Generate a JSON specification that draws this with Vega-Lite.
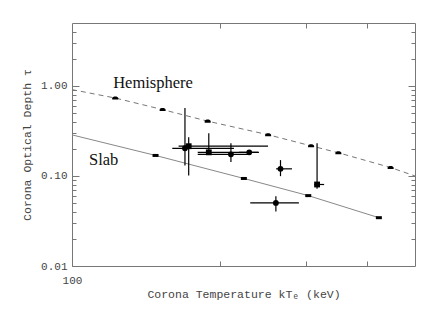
{
  "$schema": "https://vega.github.io/schema/vega-lite/v6.json",
  "width": 343,
  "height": 243,
  "autosize": {"type": "none"},
  "padding": {"left": 72, "top": 23, "right": 21, "bottom": 46},
  "background": "white",
  "config": {
    "view": {"stroke": "#777", "strokeWidth": 1},
    "axis": {
      "grid": false,
      "domain": false,
      "tickColor": "#777",
      "tickWidth": 1,
      "labelFont": "Liberation Mono",
      "labelFontSize": 11,
      "labelColor": "#444",
      "labelFlush": false,
      "labelOverlap": false,
      "titleFont": "Liberation Mono",
      "titleFontSize": 11.5,
      "titleFontWeight": "normal",
      "titleColor": "#444"
    }
  },
  "datasets": {
    "hemi": [
      {"T": 100, "tau": 0.91, "marker": false},
      {"T": 122.5, "tau": 0.734, "marker": true},
      {"T": 153, "tau": 0.546, "marker": true},
      {"T": 189, "tau": 0.406, "marker": true},
      {"T": 251, "tau": 0.287, "marker": true},
      {"T": 307, "tau": 0.216, "marker": true},
      {"T": 349, "tau": 0.181, "marker": true},
      {"T": 446, "tau": 0.124, "marker": true},
      {"T": 500, "tau": 0.1, "marker": false}
    ],
    "slab": [
      {"T": 100, "tau": 0.286, "marker": false},
      {"T": 148, "tau": 0.169, "marker": true},
      {"T": 224, "tau": 0.0938, "marker": true},
      {"T": 303, "tau": 0.0605, "marker": true},
      {"T": 422, "tau": 0.0344, "marker": true}
    ],
    "obs": [
      {"T": 169.9, "tau": 0.203, "Tlo": 160.1, "Thi": 213.8, "taulo": 0.131, "tauhi": 0.568, "kind": "circle"},
      {"T": 172.9, "tau": 0.214, "Tlo": 164.9, "Thi": 250.9, "taulo": 0.101, "tauhi": 0.269, "kind": "square"},
      {"T": 190.0, "tau": 0.183, "Tlo": 180.4, "Thi": 239.4, "taulo": 0.178, "tauhi": 0.298, "kind": "square"},
      {"T": 210.8, "tau": 0.174, "Tlo": 180.4, "Thi": 231.6, "taulo": 0.143, "tauhi": 0.231, "kind": "circle"},
      {"T": 229.7, "tau": 0.183, "Tlo": 218.9, "Thi": 240.5, "taulo": 0.178, "tauhi": 0.188, "kind": "circle"},
      {"T": 266.0, "tau": 0.12, "Tlo": 260.6, "Thi": 280.7, "taulo": 0.0995, "tauhi": 0.15, "kind": "circle"},
      {"T": 315.8, "tau": 0.0804, "Tlo": 311.8, "Thi": 326.4, "taulo": 0.0719, "tauhi": 0.231, "kind": "square"},
      {"T": 260.3, "tau": 0.0502, "Tlo": 230.8, "Thi": 290.0, "taulo": 0.0404, "tauhi": 0.0595, "kind": "circle"}
    ],
    "labels": [
      {"T": 121.3, "tau": 0.951, "label": "Hemisphere"},
      {"T": 108.3, "tau": 0.131, "label": "Slab"}
    ]
  },
  "layer": [
    {
      "data": {"name": "hemi"},
      "mark": {"type": "line", "color": "#777", "strokeWidth": 1, "strokeDash": [5, 4]},
      "encoding": {
        "x": {
          "field": "T", "type": "quantitative",
          "scale": {"type": "log", "domain": [100, 500], "nice": false},
          "axis": {
            "orient": "bottom",
            "values": [100, 200, 300, 400],
            "tickSize": -5,
            "labelExpr": "datum.value == 100 ? '100' : ''",
            "labelPadding": 13,
            "title": "Corona Temperature kTₑ (keV)",
            "titleY": 28,
            "titleBaseline": "middle"
          }
        },
        "y": {
          "field": "tau", "type": "quantitative",
          "scale": {"type": "log", "domain": [0.01, 5], "nice": false},
          "axis": {
            "orient": "left",
            "values": [0.01, 0.02, 0.03, 0.04, 0.05, 0.06, 0.07, 0.08, 0.09, 0.1, 0.2, 0.3, 0.4, 0.5, 0.6, 0.7, 0.8, 0.9, 1, 2, 3, 4],
            "tickSize": -4,
            "labelExpr": "(datum.value == 0.01 || datum.value == 0.1 || datum.value == 1) ? format(datum.value, '.2f') : ''",
            "labelPadding": 9,
            "labelBaseline": "middle",
            "title": "Corona Optical Depth τ",
            "titleX": -45,
            "titleY": 121.5,
            "titleAngle": 270,
            "titleBaseline": "middle",
            "titleAlign": "center"
          }
        }
      }
    },
    {
      "data": {"name": "slab"},
      "mark": {"type": "line", "color": "#888", "strokeWidth": 1},
      "encoding": {
        "x": {
          "field": "T", "type": "quantitative",
          "scale": {"type": "log", "domain": [100, 500], "nice": false},
          "axis": {"orient": "top", "values": [200, 300, 400], "tickSize": -5, "labels": false, "title": null}
        },
        "y": {
          "field": "tau", "type": "quantitative",
          "scale": {"type": "log", "domain": [0.01, 5], "nice": false},
          "axis": {
            "orient": "right",
            "values": [0.02, 0.03, 0.04, 0.05, 0.06, 0.07, 0.08, 0.09, 0.2, 0.3, 0.4, 0.5, 0.6, 0.7, 0.8, 0.9, 2, 3, 4],
            "tickSize": -4, "labels": false, "title": null
          }
        }
      }
    },
    {
      "data": {"name": "hemi"},
      "transform": [{"filter": "datum.marker"}],
      "mark": {"type": "point", "filled": true, "color": "black", "opacity": 1, "size": 36,
               "shape": "M-1,0.5 L-1,0.1 C-1,-0.75 1,-0.75 1,0.1 L1,0.5 Z"},
      "encoding": {
        "x": {"field": "T", "type": "quantitative", "scale": {"type": "log", "domain": [100, 500], "nice": false}, "axis": null},
        "y": {
          "field": "tau", "type": "quantitative",
          "scale": {"type": "log", "domain": [0.01, 5], "nice": false},
          "axis": {"orient": "left", "values": [0.1, 1], "tickSize": -7, "labels": false, "title": null}
        }
      }
    },
    {
      "data": {"name": "slab"},
      "transform": [{"filter": "datum.marker"}],
      "mark": {"type": "point", "filled": true, "color": "black", "opacity": 1, "size": 36,
               "shape": "M-1,-0.5 L1,-0.5 L1,0.5 L-1,0.5 Z"},
      "encoding": {
        "x": {"field": "T", "type": "quantitative", "scale": {"type": "log", "domain": [100, 500], "nice": false}, "axis": null},
        "y": {
          "field": "tau", "type": "quantitative",
          "scale": {"type": "log", "domain": [0.01, 5], "nice": false},
          "axis": {"orient": "right", "values": [0.1, 1], "tickSize": -7, "labels": false, "title": null}
        }
      }
    },
    {
      "data": {"name": "obs"},
      "mark": {"type": "rule", "color": "black", "strokeWidth": 1.2},
      "encoding": {
        "x": {"field": "Tlo", "type": "quantitative", "scale": {"type": "log", "domain": [100, 500], "nice": false}, "axis": null},
        "x2": {"field": "Thi"},
        "y": {"field": "tau", "type": "quantitative", "scale": {"type": "log", "domain": [0.01, 5], "nice": false}, "axis": null}
      }
    },
    {
      "data": {"name": "obs"},
      "mark": {"type": "rule", "color": "black", "strokeWidth": 1.2},
      "encoding": {
        "x": {"field": "T", "type": "quantitative", "scale": {"type": "log", "domain": [100, 500], "nice": false}, "axis": null},
        "y": {"field": "taulo", "type": "quantitative", "scale": {"type": "log", "domain": [0.01, 5], "nice": false}, "axis": null},
        "y2": {"field": "tauhi"}
      }
    },
    {
      "data": {"name": "obs"},
      "mark": {"type": "point", "filled": true, "color": "black", "opacity": 1, "size": 34},
      "encoding": {
        "x": {"field": "T", "type": "quantitative", "scale": {"type": "log", "domain": [100, 500], "nice": false}, "axis": null},
        "y": {"field": "tau", "type": "quantitative", "scale": {"type": "log", "domain": [0.01, 5], "nice": false}, "axis": null},
        "shape": {"field": "kind", "type": "nominal", "scale": {"domain": ["circle", "square"], "range": ["circle", "square"]}, "legend": null}
      }
    },
    {
      "data": {"name": "labels"},
      "mark": {"type": "text", "font": "Liberation Serif", "fontSize": 16.5, "color": "#111", "align": "left", "baseline": "alphabetic"},
      "encoding": {
        "x": {"field": "T", "type": "quantitative", "scale": {"type": "log", "domain": [100, 500], "nice": false}, "axis": null},
        "y": {"field": "tau", "type": "quantitative", "scale": {"type": "log", "domain": [0.01, 5], "nice": false}, "axis": null},
        "text": {"field": "label"}
      }
    }
  ],
  "resolve": {"axis": {"x": "independent", "y": "independent"}}
}
